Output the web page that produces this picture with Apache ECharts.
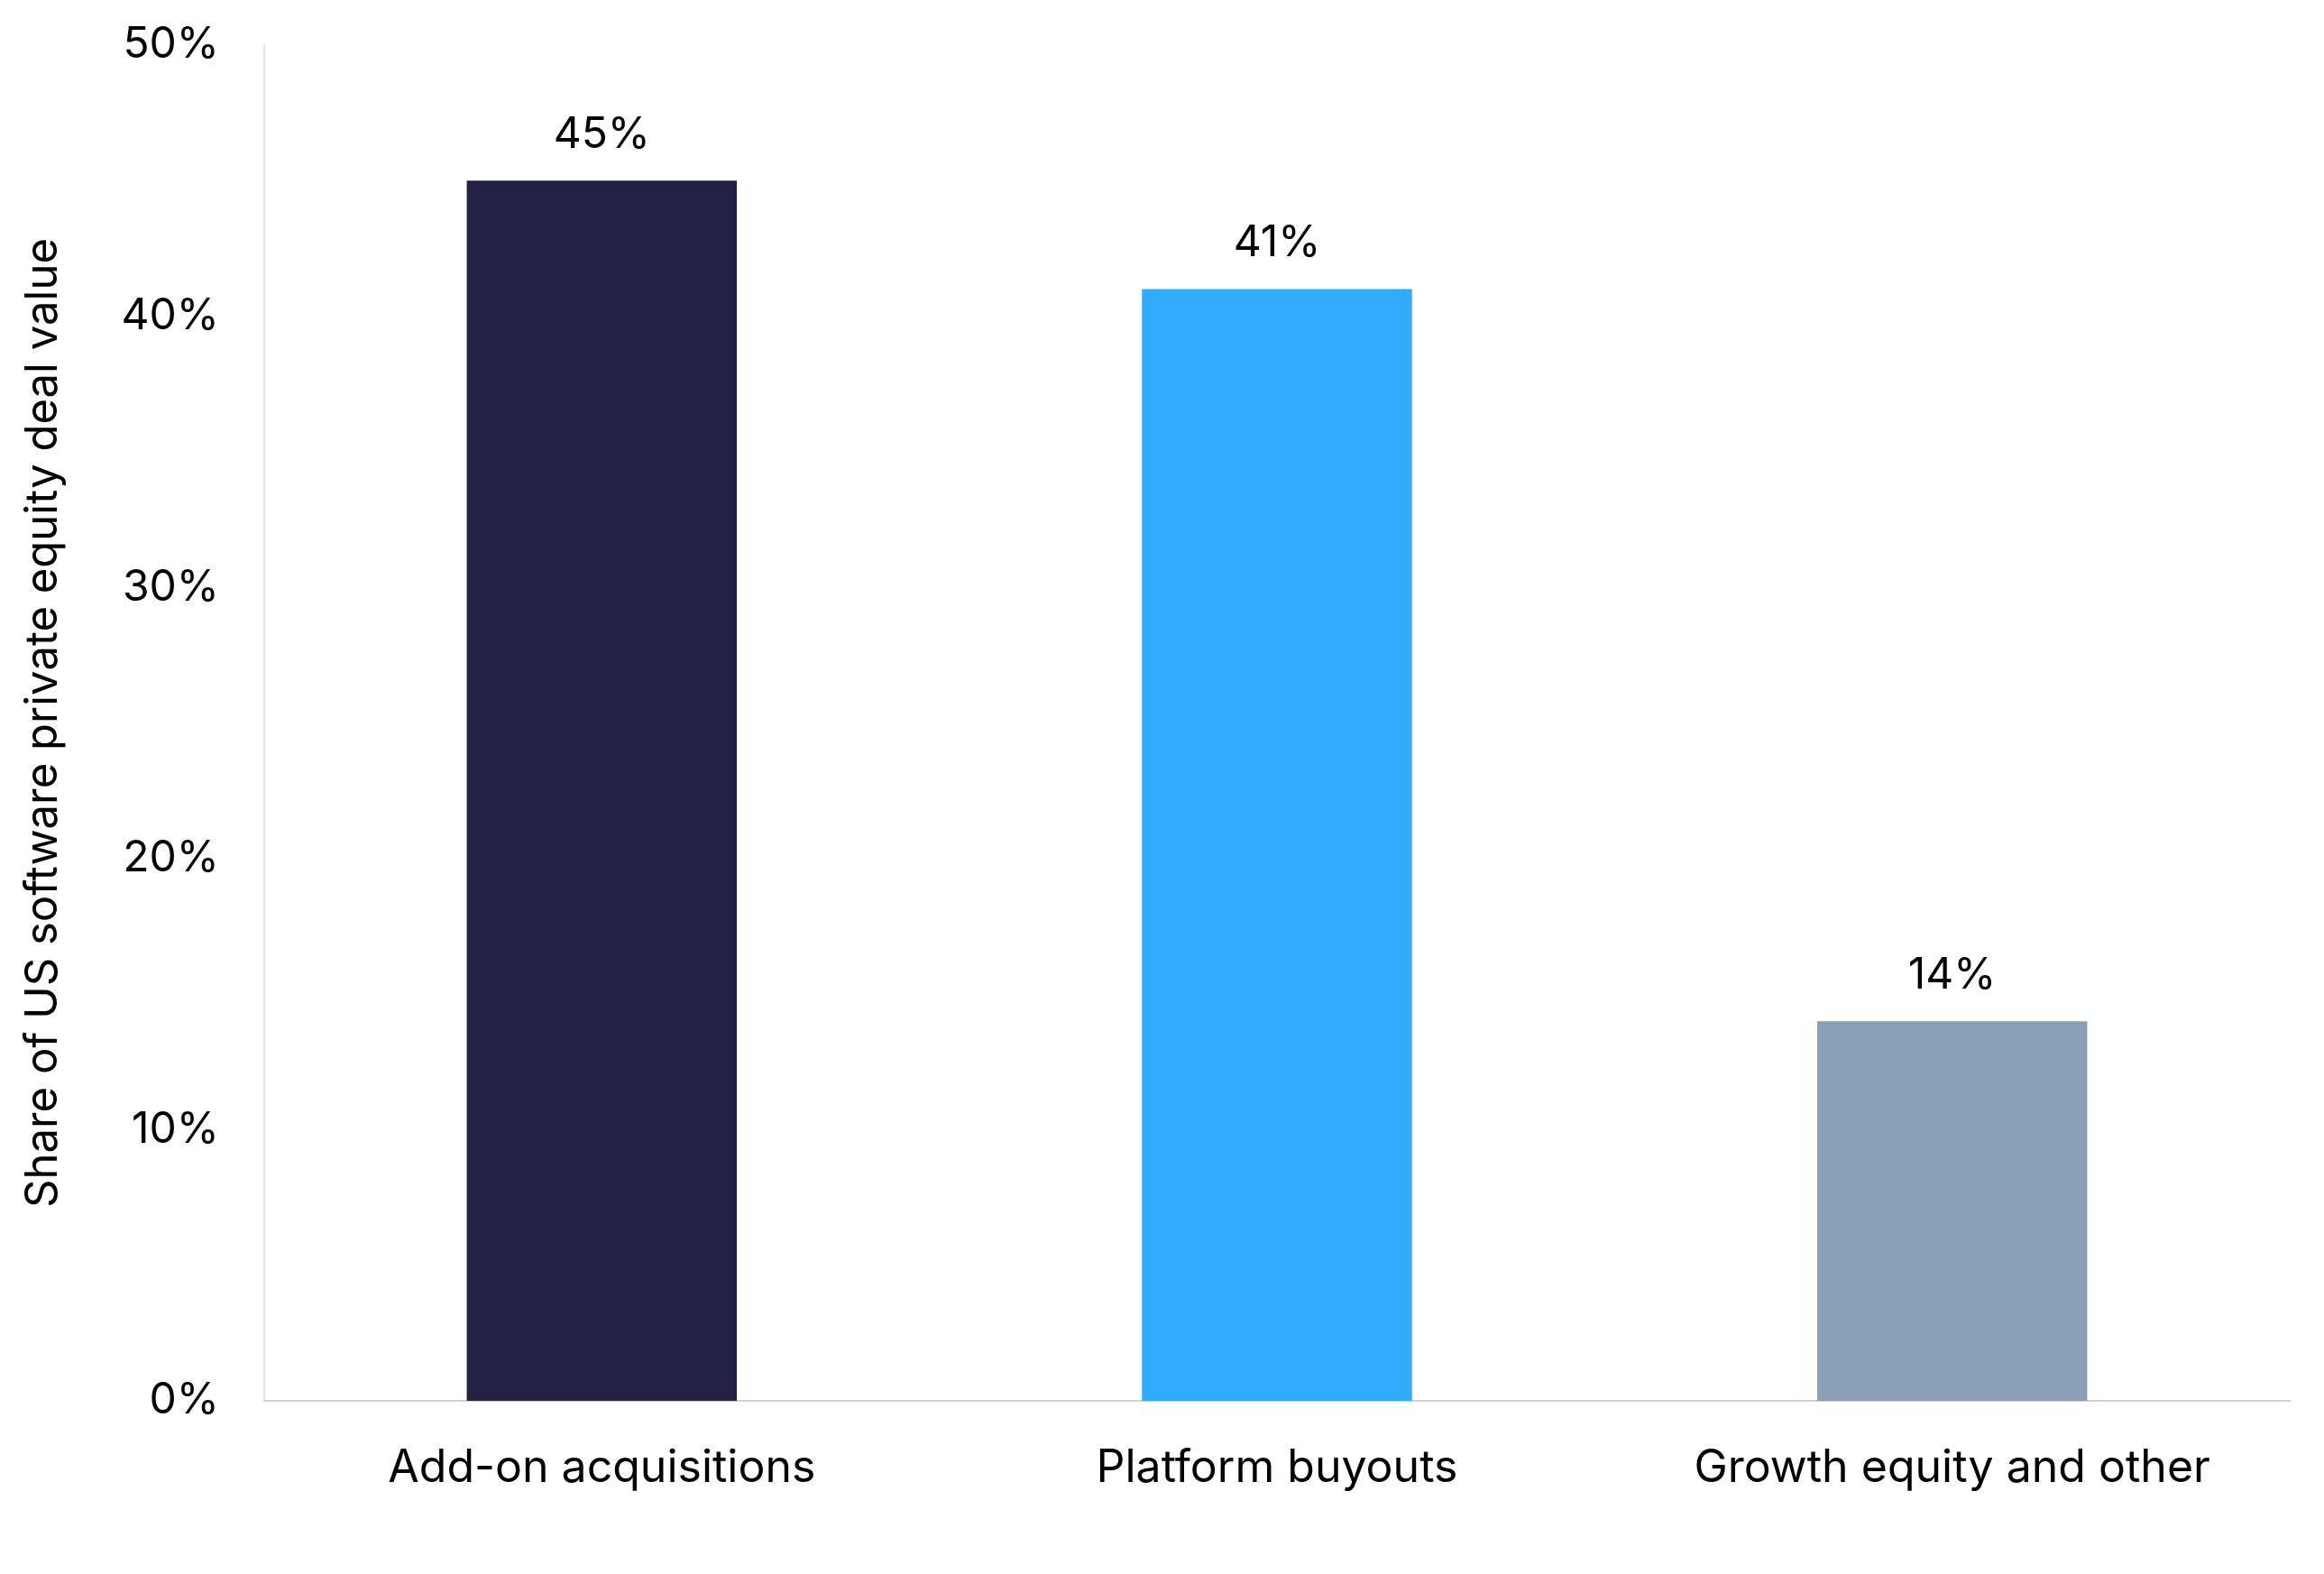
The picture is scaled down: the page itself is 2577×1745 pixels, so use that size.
<!DOCTYPE html>
<html>
<head>
<meta charset="utf-8">
<script src="https://cdn.jsdelivr.net/npm/echarts@6/dist/echarts.min.js"></script>
<style>
  html, body { margin: 0; padding: 0; background: #fff; }
  #chart { width: 2577px; height: 1745px; }
</style>
</head>
<body>
<div id="chart"></div>
<script>
  const categories = ['Add-on acquisitions', 'Platform buyouts', 'Growth equity and other'];
  const shares = [45, 41, 14];
  const barColors = ['#222344', '#32AAFE', '#8A9FB6'];
  const yTicks = [0, 10, 20, 30, 40, 50];

  const font = 'Inter, "Noto Sans", sans-serif';

  const chart = echarts.init(document.getElementById('chart'), null, { renderer: 'canvas' });
  chart.setOption({
    animation: false,
    grid: { left: 293, right: 38, top: 50, bottom: 192 },
    xAxis: {
      type: 'category',
      data: categories,
      axisLine: { lineStyle: { color: '#d0d0d0', width: 2 } },
      axisTick: { show: false },
      axisLabel: { color: '#000', fontSize: 50, fontFamily: font, margin: 50 },
    },
    yAxis: {
      type: 'value',
      min: yTicks[0],
      max: yTicks[yTicks.length - 1],
      interval: 10,
      name: 'Share of US software private equity deal value',
      nameLocation: 'middle',
      nameGap: 220,
      nameTextStyle: { color: '#000', fontSize: 49, fontFamily: font },
      axisLine: { show: true, lineStyle: { color: '#d9d9d9', width: 1.5 } },
      axisTick: { show: false },
      splitLine: { show: false },
      axisLabel: { color: '#000', fontSize: 48, fontFamily: font, margin: 50, formatter: '{value}%' },
    },
    series: [{
      type: 'bar',
      barWidth: '40%',
      data: shares.map((v, i) => ({ value: v, itemStyle: { color: barColors[i] } })),
      label: {
        show: true,
        position: 'top',
        distance: 27,
        color: '#000',
        fontSize: 48,
        fontFamily: font,
        formatter: '{c}%',
      },
    }],
  });
</script>
</body>
</html>
